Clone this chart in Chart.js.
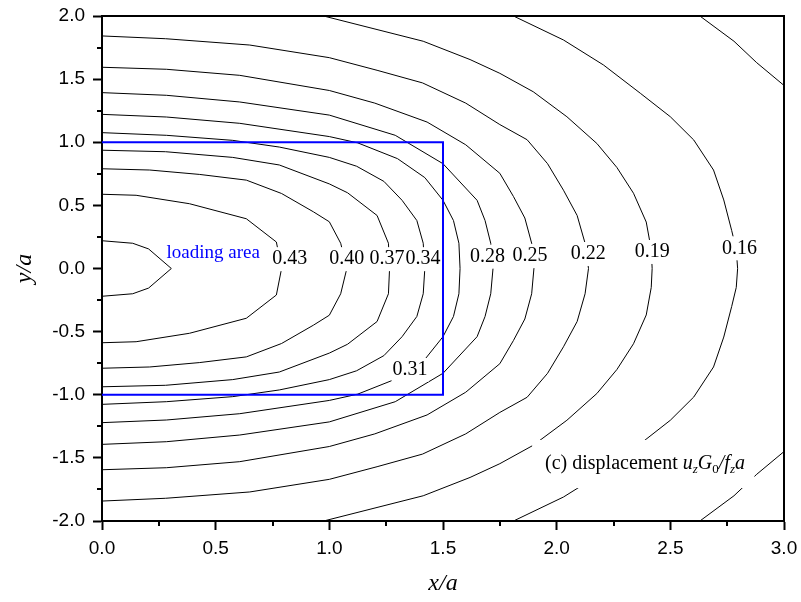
<!DOCTYPE html>
<html>
<head>
<meta charset="utf-8">
<script src="https://cdn.jsdelivr.net/npm/chart.js@4.4.1/dist/chart.umd.min.js"></script>
<style>
  body { margin: 0; background: #fff; }
  canvas { display: block; }
</style>
</head>
<body>
<canvas id="myChart" width="801" height="602"></canvas>
<script>
// axis ticks
var xTicks = [0, 0.5, 1, 1.5, 2, 2.5, 3];
var yTicks = [-2, -1.5, -1, -0.5, 0, 0.5, 1, 1.5, 2];
var xMinor = [0.25, 0.75, 1.25, 1.75, 2.25, 2.75];
var yMinor = [-1.75, -1.25, -0.75, -0.25, 0.25, 0.75, 1.25, 1.75];

// contour lines, [x/a, y/a]
var c46 = [[0,0.22],[0.135,0.2],[0.205,0.155],[0.305,0],[0.205,-0.155],[0.135,-0.2],[0,-0.22]];
var c43 = [[0,0.588],[0.15,0.58],[0.385,0.513],[0.635,0.394],[0.767,0.21],[0.79,0],
           [0.767,-0.21],[0.635,-0.394],[0.385,-0.513],[0.15,-0.58],[0,-0.588]];
var c40 = [[0,0.79],[0.21,0.78],[0.43,0.745],[0.635,0.7],[0.79,0.594],[0.93,0.449],[1.0,0.37],[1.05,0.2],[1.077,0],
           [1.05,-0.2],[1.0,-0.37],[0.93,-0.449],[0.79,-0.594],[0.635,-0.7],[0.43,-0.745],[0.21,-0.78],[0,-0.79]];
var c37 = [[0,0.937],[0.28,0.925],[0.575,0.88],[0.78,0.82],[1.0,0.67],[1.08,0.6],[1.21,0.42],[1.26,0.2],[1.265,0],
           [1.26,-0.2],[1.21,-0.42],[1.08,-0.6],[1.0,-0.67],[0.78,-0.82],[0.575,-0.88],[0.28,-0.925],[0,-0.937]];
var c34 = [[0,1.076],[0.283,1.055],[0.575,1.015],[0.78,0.962],[1.0,0.88],[1.12,0.81],[1.24,0.69],[1.32,0.54],[1.385,0.38],[1.413,0.2],[1.42,0],
           [1.413,-0.2],[1.385,-0.38],[1.32,-0.54],[1.24,-0.69],[1.12,-0.81],[1.0,-0.88],[0.78,-0.962],[0.575,-1.015],[0.283,-1.055],[0,-1.076]];
var c31 = [[0,1.221],[0.283,1.2],[0.606,1.15],[1.0,1.045],[1.125,0.995],[1.3,0.87],[1.42,0.72],[1.5,0.54],[1.546,0.38],[1.57,0.2],[1.575,0],
           [1.57,-0.2],[1.546,-0.38],[1.5,-0.54],[1.42,-0.72],[1.3,-0.87],[1.125,-0.995],[1.0,-1.045],[0.606,-1.15],[0.283,-1.2],[0,-1.221]];
var c28 = [[0,1.393],[0.283,1.372],[0.606,1.319],[1.0,1.215],[1.29,1.055],[1.5,0.83],[1.65,0.54],[1.685,0.38],[1.71,0.2],[1.72,0],
           [1.71,-0.2],[1.685,-0.38],[1.65,-0.54],[1.5,-0.83],[1.29,-1.055],[1.0,-1.215],[0.606,-1.319],[0.283,-1.372],[0,-1.393]];
var c25 = [[0,1.594],[0.283,1.578],[0.606,1.53],[1.0,1.41],[1.2,1.31],[1.43,1.16],[1.6,0.98],[1.75,0.754],[1.81,0.57],[1.86,0.4],[1.89,0.2],[1.9,0],
           [1.89,-0.2],[1.86,-0.4],[1.81,-0.57],[1.75,-0.754],[1.6,-0.98],[1.43,-1.16],[1.2,-1.31],[1.0,-1.41],[0.606,-1.53],[0.283,-1.578],[0,-1.594]];
var c22 = [[0,1.842],[0.28,1.82],[0.65,1.77],[1.0,1.67],[1.21,1.57],[1.41,1.47],[1.6,1.31],[1.75,1.14],[1.87,1.02],[1.96,0.83],[2.03,0.62],[2.09,0.42],[2.125,0.2],[2.14,0],
           [2.125,-0.2],[2.09,-0.42],[2.03,-0.62],[1.96,-0.83],[1.87,-1.02],[1.75,-1.14],[1.6,-1.31],[1.41,-1.47],[1.21,-1.57],[1.0,-1.67],[0.65,-1.77],[0.28,-1.82],[0,-1.842]];
var c19 = [[0.975,2.0],[1.413,1.8],[1.619,1.655],[1.75,1.546],[1.897,1.4],[2.045,1.202],[2.177,0.99],[2.265,0.8],[2.338,0.596],[2.394,0.368],[2.416,0.15],[2.42,0],
           [2.416,-0.15],[2.394,-0.368],[2.338,-0.596],[2.265,-0.8],[2.177,-0.99],[2.045,-1.202],[1.897,-1.4],[1.75,-1.546],[1.619,-1.655],[1.413,-1.8],[0.975,-2.0]];
var c16 = [[1.81,2.0],[2.03,1.81],[2.206,1.612],[2.368,1.388],[2.5,1.202],[2.603,1.018],[2.69,0.78],[2.735,0.543],[2.77,0.3],[2.79,0.15],[2.796,0],
           [2.79,-0.15],[2.77,-0.3],[2.735,-0.543],[2.69,-0.78],[2.603,-1.018],[2.5,-1.202],[2.368,-1.388],[2.206,-1.612],[2.03,-1.81],[1.81,-2.0]];
var c13top = [[2.63,2.0],[2.78,1.8],[2.88,1.63],[3.0,1.45]];
var c13bot = [[2.63,-2.0],[2.78,-1.8],[2.88,-1.63],[3.0,-1.45]];

var loadingArea = [[0,1],[1.5,1],[1.5,-1],[0,-1]];

// contour labels and where they sit
var labelText = ['0.43','0.40','0.37','0.34','0.31','0.28','0.25','0.22','0.19','0.16'];
var labelAt = [[0.826,0.074],[1.077,0.074],[1.254,0.074],[1.412,0.074],[1.355,-0.804],
               [1.696,0.094],[1.883,0.099],[2.139,0.115],[2.421,0.131],[2.804,0.16]];

var contours = [c46, c43, c40, c37, c34, c31, c28, c25, c22, c19, c16, c13top, c13bot];

function toPoints(arr) {
  return arr.map(function (p) { return { x: p[0], y: p[1] }; });
}

var datasets = [{
  data: toPoints(loadingArea),
  showLine: true,
  borderColor: '#0000ff',
  borderWidth: 2,
  pointRadius: 0,
  fill: false
}];
for (var i = 0; i < contours.length; i++) {
  datasets.push({
    data: toPoints(contours[i]),
    showLine: true,
    borderColor: '#000',
    borderWidth: 1,
    pointRadius: 0,
    fill: false
  });
}

function drawNote(ctx, x, y) {
  var serif = '"Liberation Serif", "Times New Roman", serif';
  var parts = [
    ['(c) displacement ', '20px ' + serif, 0],
    ['u', 'italic 20px ' + serif, 0],
    ['z', 'italic 13px ' + serif, 4],
    ['G', 'italic 20px ' + serif, 0],
    ['0', '13px ' + serif, 4],
    ['/', 'italic 20px ' + serif, 0],
    ['f', 'italic 20px ' + serif, 0],
    ['z', 'italic 13px ' + serif, 4],
    ['a', 'italic 20px ' + serif, 0]
  ];
  ctx.textAlign = 'left';
  ctx.textBaseline = 'alphabetic';
  for (var k = 0; k < parts.length; k++) {
    ctx.font = parts[k][1];
    ctx.fillText(parts[k][0], x, y + parts[k][2]);
    x += ctx.measureText(parts[k][0]).width;
  }
}

// keep the plot box where the reference has it
function noPadding(s) {
  s.paddingTop = 0;
  s.paddingBottom = 0;
  s.paddingLeft = 0;
  s.paddingRight = 0;
}

var extras = {
  id: 'extras',
  afterDatasetsDraw: function (chart) {
    var ctx = chart.ctx;
    var xs = chart.scales.x, ys = chart.scales.y;
    ctx.save();

    // contour labels, white box breaks the line
    ctx.font = '20px "Liberation Serif", "Times New Roman", serif';
    ctx.textAlign = 'center';
    ctx.textBaseline = 'middle';
    var w, px, py, j;
    for (j = 0; j < labelText.length; j++) {
      px = xs.getPixelForValue(labelAt[j][0]);
      py = ys.getPixelForValue(labelAt[j][1]);
      w = ctx.measureText(labelText[j]).width;
      ctx.fillStyle = '#fff';
      ctx.fillRect(px - w / 2 - 1, py - 12, w + 2, 24);
    }
    ctx.fillStyle = '#000';
    for (j = 0; j < labelText.length; j++) {
      px = xs.getPixelForValue(labelAt[j][0]);
      py = ys.getPixelForValue(labelAt[j][1]);
      ctx.fillText(labelText[j], px, py);
    }

    // loading area note
    ctx.font = '19px "Liberation Serif", "Times New Roman", serif';
    ctx.fillStyle = '#0000ff';
    ctx.textAlign = 'left';
    ctx.textBaseline = 'alphabetic';
    ctx.fillText('loading area', xs.getPixelForValue(0.284), ys.getPixelForValue(0.087));

    // caption box in the lower right
    var bx0 = xs.getPixelForValue(1.892), bx1 = xs.getPixelForValue(2.87);
    var by0 = ys.getPixelForValue(-1.358), by1 = ys.getPixelForValue(-1.739);
    ctx.fillStyle = '#fff';
    ctx.fillRect(bx0, by0, bx1 - bx0, by1 - by0);
    ctx.fillStyle = '#000';
    drawNote(ctx, xs.getPixelForValue(1.949), ys.getPixelForValue(-1.588));
    ctx.restore();
  },
  afterDraw: function (chart) {
    var ctx = chart.ctx;
    var a = chart.chartArea;
    var xs = chart.scales.x, ys = chart.scales.y;
    ctx.save();
    ctx.strokeStyle = '#000';
    ctx.lineWidth = 2;
    ctx.beginPath();
    // minor ticks
    xMinor.forEach(function (v) {
      var p = Math.round(xs.getPixelForValue(v));
      ctx.moveTo(p, a.bottom);
      ctx.lineTo(p, a.bottom + 5);
    });
    yMinor.forEach(function (v) {
      var p = Math.round(ys.getPixelForValue(v));
      ctx.moveTo(a.left - 5, p);
      ctx.lineTo(a.left, p);
    });
    // top and right frame
    ctx.moveTo(a.left - 1, Math.round(a.top));
    ctx.lineTo(Math.round(a.right), Math.round(a.top));
    ctx.lineTo(Math.round(a.right), a.bottom + 1);
    ctx.stroke();
    ctx.restore();
  }
};

var ctx = document.getElementById('myChart').getContext('2d');
var myChart = new Chart(ctx, {
  type: 'scatter',
  data: { datasets: datasets },
  options: {
    responsive: false,
    animation: false,
    devicePixelRatio: 1,
    layout: { padding: { left: 0, right: 17, top: 16, bottom: 0 } },
    plugins: {
      legend: { display: false },
      tooltip: { enabled: false },
      title: { display: false }
    },
    scales: {
      x: {
        type: 'linear',
        position: 'bottom',
        min: 0,
        max: 3,
        afterBuildTicks: function (s) { s.ticks = xTicks.map(function (v) { return { value: v }; }); },
        afterFit: function (s) { s.height = 81; noPadding(s); },
        ticks: {
          autoSkip: false,
          maxRotation: 0,
          padding: 7,
          color: '#000',
          font: { family: '"Liberation Sans", Arial, sans-serif', size: 19 },
          callback: function (v) { return Number(v).toFixed(1); }
        },
        grid: { display: true, drawOnChartArea: false, drawTicks: true, tickLength: 9, tickWidth: 2, tickColor: '#000' },
        border: { display: true, color: '#000', width: 2 },
        title: {
          display: true,
          text: 'x/a',
          color: '#000',
          font: { family: '"Liberation Serif", "Times New Roman", serif', size: 24, style: 'italic' },
          padding: { top: 0, bottom: 4 }
        }
      },
      y: {
        type: 'linear',
        position: 'left',
        min: -2,
        max: 2,
        afterBuildTicks: function (s) { s.ticks = yTicks.map(function (v) { return { value: v }; }); },
        afterFit: function (s) { s.width = 102; noPadding(s); },
        ticks: {
          autoSkip: false,
          padding: 8,
          color: '#000',
          font: { family: '"Liberation Sans", Arial, sans-serif', size: 19 },
          callback: function (v) { return Number(v).toFixed(1); }
        },
        grid: { display: true, drawOnChartArea: false, drawTicks: true, tickLength: 9, tickWidth: 2, tickColor: '#000' },
        border: { display: true, color: '#000', width: 2 },
        title: {
          display: true,
          text: 'y/a',
          color: '#000',
          font: { family: '"Liberation Serif", "Times New Roman", serif', size: 24, style: 'italic' },
          padding: { top: 10, bottom: 0 }
        }
      }
    }
  },
  plugins: [extras]
});
</script>
</body>
</html>
